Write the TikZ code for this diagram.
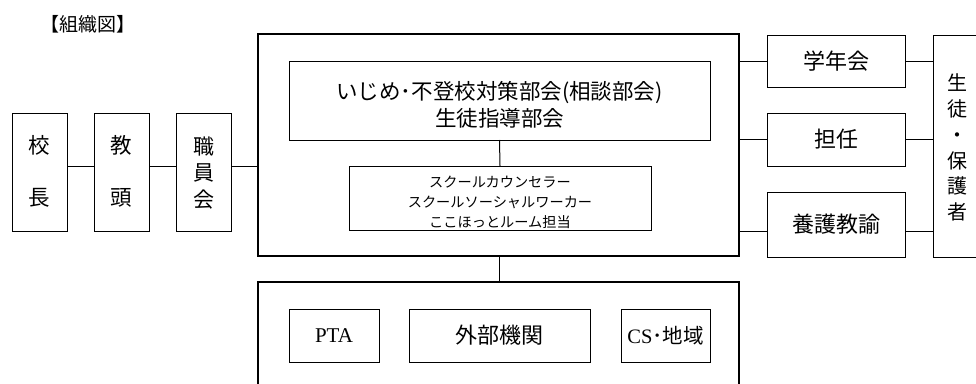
\documentclass[tikz,border=0pt]{standalone}
\usepackage{fontspec}
\setmainfont{Noto Sans CJK JP}
\newfontfamily\latf{Liberation Serif}
\begin{document}
\begin{tikzpicture}[x=1pt,y=-1pt]
\tikzset{
  box/.style={draw, line width=1pt, inner sep=0pt, outer sep=0pt, align=center},
  bigbox/.style={draw, line width=2.6pt, inner sep=0pt, outer sep=0pt},
  link/.style={line width=1pt},
  txt/.style={inner sep=0pt, align=center},
}
\useasboundingbox (0,0) rectangle (976,383);
\clip (0,0) rectangle (976,383);
\fill[white] (0,0) rectangle (976,383);

% title
\node[txt, font=\fontsize{19}{19}\selectfont] (title) at (88,24) {【組織図】};

% left chain
\node[box, minimum width=55, minimum height=118] (kocho) at (39.5,172) {};
\node[txt, font=\fontsize{21.5}{52}\selectfont] (kochotxt) at (39.5,171) {校\\長};
\node[box, minimum width=55, minimum height=118] (kyoto) at (121.5,172) {};
\node[txt, font=\fontsize{21.5}{52}\selectfont] (kyototxt) at (121.5,171) {教\\頭};
\node[box, minimum width=55, minimum height=118] (shokuin) at (203.5,172) {};
\node[txt, font=\fontsize{21}{26.5}\selectfont] (shokuintxt) at (203.5,173) {職\\員\\会};

% main box
\node[bigbox, minimum width=481, minimum height=222] (main) at (498.5,145) {};
\node[box, minimum width=421, minimum height=79] (bukai) at (499.5,100.5) {};
\node[txt, font=\fontsize{21.5}{27}\selectfont] (bukaitxt) at (499.5,104.5) {いじめ･不登校対策部会(相談部会)\\生徒指導部会};
\node[box, minimum width=302, minimum height=64] (sc) at (500,198) {};
\node[txt, font=\fontsize{14.2}{20}\selectfont] (sctxt) at (500,202) {スクールカウンセラー\\スクールソーシャルワーカー\\ここほっとルーム担当};

% lower box
\node[bigbox, minimum width=481, minimum height=140] (lower) at (498.5,352) {};
\node[box, minimum width=90, minimum height=53, font=\latf\fontsize{21}{21}\selectfont] (pta) at (334,335.5) {PTA};
\node[box, minimum width=181, minimum height=53, font=\fontsize{22}{22}\selectfont] (gaibu) at (499.5,335.5) {外部機関};
\node[box, minimum width=89, minimum height=53, font=\fontsize{20.5}{20.5}\selectfont] (cs) at (665.5,335.5) {{\latf CS}･地域};

% right boxes
\node[box, minimum width=138, minimum height=52, font=\fontsize{22}{22}\selectfont] (gakunen) at (836,61) {学年会};
\node[box, minimum width=138, minimum height=53, font=\fontsize{22}{22}\selectfont] (tannin) at (836,139.5) {担任};
\node[box, minimum width=138, minimum height=65, font=\fontsize{22}{22}\selectfont] (yogo) at (836,224.5) {養護教諭};
\node[box, minimum width=90, minimum height=222] (seito) at (978,146) {};
\node[txt, font=\fontsize{20}{25.8}\selectfont] (seitotxt) at (957,147.5) {生\\徒\\・\\保\\護\\者};

% connector rows
\coordinate (rowL) at (0,166);
\coordinate (rowY) at (0,231);

\draw[link] (kocho.east |- rowL) -- (kyoto.west |- rowL);
\draw[link] (kyoto.east |- rowL) -- (shokuin.west |- rowL);
\draw[link] (shokuin.east |- rowL) -- (main.west |- rowL);

\draw[link] (bukai.south) -- (sc.north);
\draw[link] (main.south -| bukai.south) -- (lower.north -| bukai.south);

\draw[link] (main.east |- gakunen) -- (gakunen.west);
\draw[link] (main.east |- tannin) -- (tannin.west);
\draw[link] (main.east |- rowY) -- (yogo.west |- rowY);

\draw[link] (gakunen.east) -- (seito.west |- gakunen);
\draw[link] (tannin.east) -- (seito.west |- tannin);
\draw[link] (yogo.east |- rowY) -- (seito.west |- rowY);
\end{tikzpicture}
\end{document}
